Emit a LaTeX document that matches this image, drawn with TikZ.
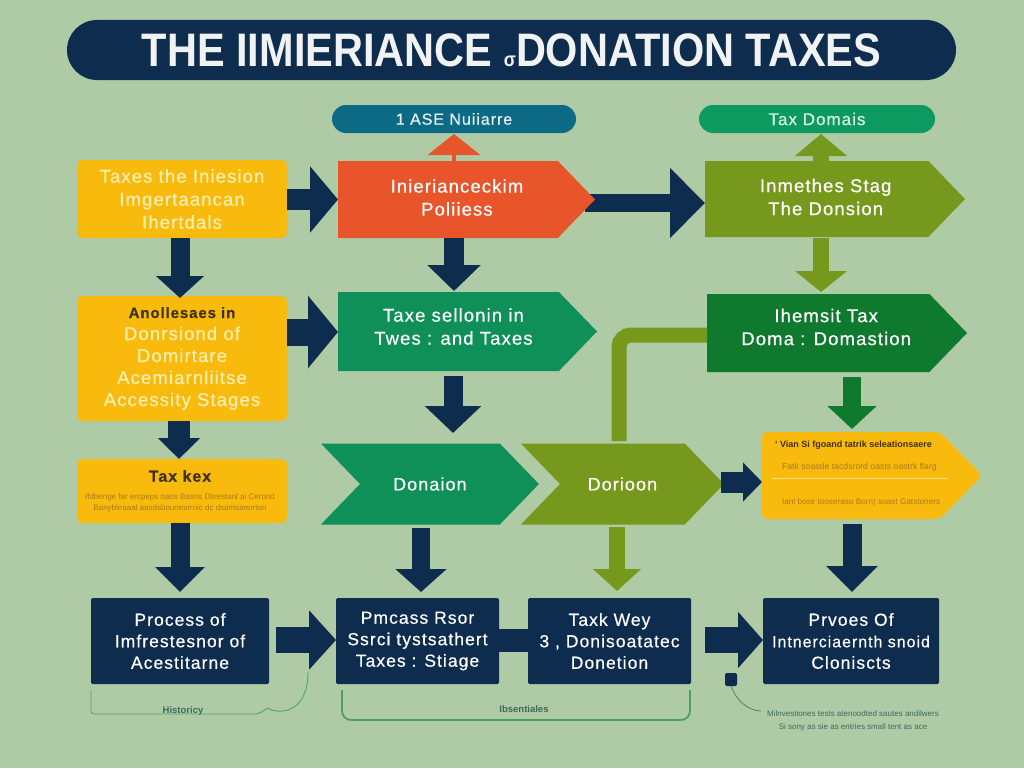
\documentclass[tikz,border=0pt]{standalone}
\usepackage{fontspec}
\setmainfont{Liberation Sans}
\newfontfamily\lab{Liberation Sans}[FakeBold=0.5,LetterSpace=6]
\usetikzlibrary{arrows.meta,shapes.symbols,calc}
\definecolor{bgc}{HTML}{AECBA6}
\definecolor{navy}{HTML}{0E2C4D}
\definecolor{teal}{HTML}{0D6A85}
\definecolor{mint}{HTML}{0C9A60}
\definecolor{amber}{HTML}{F9BA0E}
\definecolor{flame}{HTML}{E8552A}
\definecolor{olive}{HTML}{76981C}
\definecolor{emer}{HTML}{0F9058}
\definecolor{forest}{HTML}{0F7A2E}
\definecolor{pale}{HTML}{FDEFB0}
\definecolor{ink}{HTML}{3F3210}
\definecolor{brown}{HTML}{A87C1A}
\definecolor{thinl}{HTML}{4EA869}
\definecolor{fine}{HTML}{3F6A5A}
\newcommand{\fs}[2]{\fontsize{#1}{#2}\selectfont}
\newcommand{\mv}[2]{\hspace*{#1}\begin{tabular}{@{}c@{}}#2\end{tabular}}
\tikzset{
  x=1pt,y=-1pt,
  barrow/.style n args={4}{draw=#1,line width=#2pt,line cap=butt,-{Triangle[length=#3pt,width=#4pt]}},
  pill/.style={rectangle,rounded corners=14pt,inner sep=0pt,outer sep=0pt,anchor=north west},
  card/.style={rectangle,rounded corners=6pt,fill=amber,inner sep=0pt,outer sep=0pt,anchor=north west,minimum width=210pt,align=center},
  navybox/.style={rectangle,rounded corners=1.5pt,fill=navy,text=white,inner sep=0pt,outer sep=0pt,anchor=north west,minimum height=86pt,align=center,font=\lab\fs{17.5}{21.5}},
  penta/.style={signal,signal to=east,signal pointer angle=92,inner sep=0pt,outer sep=0pt,anchor=west,font=\lab\fs{18.5}{23},text=white},
  chev/.style={signal,signal from=west,signal to=east,signal pointer angle=92,inner sep=0pt,outer sep=0pt,anchor=west,align=center,font=\lab\fs{18}{20},minimum height=81pt},
  lbl/.style={inner sep=0pt,outer sep=0pt,align=center},
}
\begin{document}
\begin{tikzpicture}
\useasboundingbox (0,0) rectangle (1024,768);
\fill[bgc] (0,0) rectangle (1024,768);

% header
\node[pill,rounded corners=30pt,fill=navy,text=white!94!navy,minimum width=889pt,minimum height=60pt,font=\bfseries\fs{47}{50}] (title) at (67,20)
  {\scalebox{0.883}[1]{THE IIMIERIANCE {\fs{20}{20}σ}DONATION TAXES}};
\node[pill,fill=teal,text=white!90!teal,minimum width=244pt,minimum height=28pt,font=\lab\fs{16}{18}] (capA) at (332,105) {1 ASE Nuiiarre};
\node[pill,fill=mint,text=white!85!mint,minimum width=236pt,minimum height=28pt,font=\lab\fs{17}{18}] (capB) at (699,105) {Tax Domais};

% block connectors
\coordinate (oa) at (585,203);
\node[card,minimum height=78pt,text=pale,font=\lab\fs{18.5}{23}] (ta) at (77,160) {Taxes the Iniesion\\Imgertaancan\\Ihertdals};
\node[card,minimum height=125pt,text=pale,font=\lab\fs{18.5}{22}] (tb) at (77,296)
  {{\color{ink}\bfseries\fs{15}{22}Anollesaes in}\\Donrsiond of\\Domirtare\\Acemiarnliitse\\Accessity Stages};
\node[card,minimum height=64pt] (tc) at (77,459) {};
\node[lbl,font=\lab\bfseries\fs{16}{20},text=ink] (tc1) at (180,476) {Tax kex};
\node[lbl,font=\fs{8}{11},text=brown] (tc2) at (180,503) {Ifdbenge far ercpeps oaos Basns Dlirestanl ai Cerund\\Banybleaaal aasdsbounesrrnic dc dsamsaeorton};

\draw[barrow={navy}{18}{35}{68}] (oa) -- (705,203);

\node[penta,fill=flame,minimum width=257pt,minimum height=77pt] (pa) at (338,199.5) {\mv{18pt}{Inierianceckim\\Poliiess}};
\node[penta,fill=olive,minimum width=260pt,minimum height=76pt] (pb) at (705,199) {\mv{18pt}{Inmethes Stag\\The Donsion}};
\node[penta,fill=emer,minimum width=259pt,minimum height=79pt] (pc) at (338,331.5) {\mv{10pt}{Taxe sellonin in\\Twes : and Taxes\\[6pt]}};
\node[penta,fill=forest,minimum width=260pt,minimum height=78pt] (pd) at (707,333) {\mv{16pt}{Ihemsit Tax\\Doma : Domastion\\[8pt]}};
\node[penta,fill=amber,minimum width=220pt,minimum height=87pt,rounded corners=6pt] (pe) at (762,475.5) {};

\node[chev,fill=emer,text=white,minimum width=218pt] (da) at (360,484) {Donaion};
\node[chev,fill=olive,text=white,minimum width=203pt] (db) at (560,484) {Dorioon};

\node[lbl,font=\bfseries\fs{9}{10},text=ink,anchor=west] (pe1) at (775,445) {‘ Vian Si fgoand tatrik seleationsaere};
\node[lbl,font=\fs{8.7}{10},text=brown,anchor=west] (pe2) at (782,467) {Fatk soasde tacdsrord oasts oastrk flarg};
\node[lbl,font=\fs{8.2}{10},text=brown,anchor=west] (pe3) at (782,502) {Ianl bose tooseraso Born) soast Gatstoners};
\coordinate (ruleL) at (772,478);
\coordinate (ruleR) at (948,478);
\draw[pale!80!amber,line width=1pt] (ruleL) -- (ruleR);

\node[navybox,minimum width=178pt] (na) at (91,598) {Process of\\Imfrestesnor of\\Acestitarne};
\node[navybox,minimum width=163pt] (nb) at (336,598) {Pmcass Rsor\\Ssrci tystsathert\\Taxes : Stiage};
\node[navybox,minimum width=163pt] (nc) at (528,598) {Taxk Wey\\3 , Donisoatatec\\Donetion};
\node[navybox,minimum width=176pt] (nd) at (763,598) {Prvoes Of\\{\fs{16}{21.5}Intnerciaernth snoid}\\Cloniscts};

\draw[barrow={navy}{21}{28}{65}] (ta.east |- 0,199.5) -- (338,199.5);
\draw[barrow={flame}{4}{21}{52}] (454,161) -- (454,134);
\draw[barrow={olive}{16}{22}{51}] (821,161) -- (821,134);
\draw[barrow={navy}{20}{26}{52}] (454,238) -- (454,291);
\draw[barrow={olive}{16}{21}{51}] (821,238) -- (821,292);
\draw[barrow={navy}{19}{22}{47}] (180,238) -- (180,298);
\draw[barrow={navy}{27}{30}{71}] (tb.east |- 0,332) -- (338,332);
\draw[barrow={navy}{22}{21}{41}] (179,421) -- (179,459);
\draw[barrow={navy}{19}{25}{48}] (180,523) -- (180,592);
\draw[barrow={navy}{19}{27}{55}] (453,376) -- (453,433);
\draw[barrow={navy}{18}{23}{50}] (421,528) -- (421,592);
\draw[barrow={olive}{16}{22}{47}] (617,527) -- (617,591);
\draw[barrow={navy}{21}{19}{38}] (721,482) -- (762,482);
\draw[barrow={forest}{18}{23}{48}] (852,377) -- (852,429);
\draw[barrow={navy}{19}{26}{50}] (852,524) -- (852,592);
\draw[barrow={navy}{26}{27}{58}] (276,640) -- (nb.west |- 0,640);
\draw[barrow={navy}{26}{25}{55}] (705,640) -- (nd.west |- 0,640);
\draw[navy,line width=23pt] (nb.east |- 0,640) -- (nc.west |- 0,640);
\draw[olive,line width=15pt,rounded corners=12pt] (619,441) -- (619,335) -- (707,335);

% notes
\node[lbl,font=\bfseries\fs{9.5}{10},text=fine] (noteA) at (183,711) {Historicy};
\node[lbl,font=\bfseries\fs{9.5}{10},text=fine] (noteB) at (524,709) {Ibsentiales};
\node[lbl,font=\fs{8}{13},text=fine] (noteC) at (853,720.5) {Milnvestiones tests atenoodted sautes andilwers\\Si sony as sie as entries small tent as ace};
\node[rectangle,fill=navy,rounded corners=2pt,minimum width=12pt,minimum height=13pt,inner sep=0pt,outer sep=0pt] (dot) at (731,679.5) {};
\coordinate (aS) at (91,690);
\coordinate (aE) at (308,672);
\coordinate (bS) at (342,690);
\coordinate (bE) at (690,690);
\coordinate (cE) at (761,711);
\draw[thinl,line width=.9pt,rounded corners=3pt] (aS) -- (91,714) -- (258,714) -- (268,708);
\draw[thinl,line width=.9pt] (268,708) .. controls (276,714) and (308,716) .. (aE);
\draw[thinl!95!black,line width=1.8pt,rounded corners=9pt] (bS) -- (342,720) -- (690,720) -- (bE);
\draw[fine!70!thinl,line width=.7pt] (dot.south) .. controls (736,700) and (748,711) .. (cE);
\end{tikzpicture}
\end{document}
